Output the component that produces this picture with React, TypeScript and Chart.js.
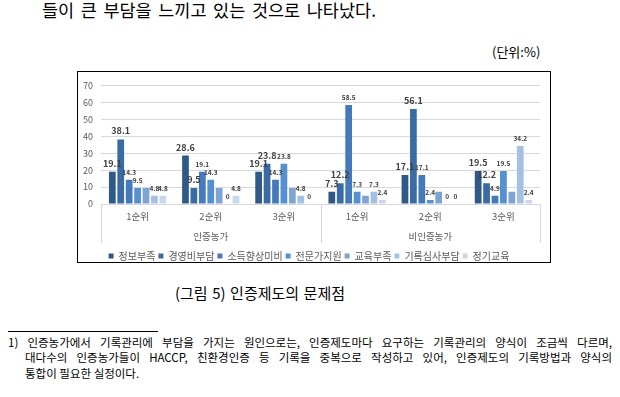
import React, { useEffect, useRef } from 'react';
import { Chart, registerables } from 'chart.js';

Chart.register(...registerables);

const FONT = '"Noto Sans CJK KR", "Noto Sans", sans-serif';

const categories = ['1순위', '2순위', '3순위', '1순위', '2순위', '3순위'];
const groups = ['인증농가', '비인증농가'];
const seriesNames = ['정보부족', '경영비부담', '소득향상미비', '전문가지원', '교육부족', '기록심사부담', '정기교육'];

const infoLack = [19.1, 28.6, 19.1, 7.3, 17.1, 19.5];
const costBurden = [38.1, 9.5, 23.8, 12.2, 56.1, 12.2];
const incomeGain = [14.3, 19.1, 14.3, 58.5, 17.1, 4.9];
const expertSupport = [9.5, 14.3, 23.8, 7.3, 2.4, 19.5];
const eduLack = [9.5, 9.5, 9.5, 4.9, 7.3, 7.3];
const recordAudit = [4.8, 0, 4.8, 7.3, 0, 34.2];
const regularEdu = [4.8, 4.8, 0, 2.4, 0, 2.4];

const seriesValues = [infoLack, costBurden, incomeGain, expertSupport, eduLack, recordAudit, regularEdu];
const seriesColors = ['#2F5987', '#3A6BA5', '#4479BC', '#5590D0', '#7FA3D4', '#A6C0E4', '#C8D7EE'];
const labelledSeries = [true, true, true, true, false, true, true];
const bigLabelSeries = [true, true, false, false, false, false, false];

const yTicks = [0, 10, 20, 30, 40, 50, 60, 70];

function ChartBox() {
  const ref = useRef<HTMLCanvasElement>(null);
  useEffect(() => {
    if (!ref.current) return;
    const datasets = seriesNames.map((name, i) => ({
      label: name,
      data: seriesValues[i],
      backgroundColor: seriesColors[i],
      borderWidth: 0,
      barPercentage: 0.8,
      categoryPercentage: 0.806,
    }));

    const valueLabels = {
      id: 'valueLabels',
      afterDatasetsDraw(chart: any) {
        const ctx = chart.ctx;
        ctx.save();
        ctx.fillStyle = '#404040';
        ctx.textAlign = 'center';
        ctx.textBaseline = 'alphabetic';
        chart.data.datasets.forEach((ds: any, i: number) => {
          if (!labelledSeries[i]) return;
          const meta = chart.getDatasetMeta(i);
          ctx.font = bigLabelSeries[i] ? `bold 9px ${FONT}` : `bold 6.5px ${FONT}`;
          meta.data.forEach((bar: any, j: number) => {
            ctx.fillText(String(ds.data[j]), bar.x, bar.y - 5);
          });
        });
        ctx.restore();
      },
    };

    const groupAxis = {
      id: 'groupAxis',
      afterDraw(chart: any) {
        const x = chart.scales.x;
        const ctx = chart.ctx;
        const mid = (x.getPixelForValue(2) + x.getPixelForValue(3)) / 2;
        const bottom = x.top + 39;
        ctx.save();
        ctx.strokeStyle = '#D9D9D9';
        ctx.lineWidth = 1;
        [x.left, mid, x.right].forEach((px: number) => {
          const p = Math.round(px) + 0.5;
          ctx.beginPath();
          ctx.moveTo(p, x.top);
          ctx.lineTo(p, bottom);
          ctx.stroke();
        });
        ctx.fillStyle = '#595959';
        ctx.font = `9.5px ${FONT}`;
        ctx.textAlign = 'center';
        ctx.textBaseline = 'middle';
        ctx.fillText(groups[0], (x.left + mid) / 2, x.top + 32);
        ctx.fillText(groups[1], (mid + x.right) / 2, x.top + 32);
        ctx.restore();
      },
    };

    const chart = new Chart(ref.current, {
      type: 'bar',
      data: { labels: categories, datasets },
      options: {
        animation: false,
        responsive: false,
        maintainAspectRatio: false,
        layout: { padding: { top: 9, right: 10, left: 0, bottom: 0 } },
        plugins: {
          legend: {
            position: 'bottom',
            labels: {
              boxWidth: 5,
              boxHeight: 5,
              padding: 3,
              color: '#595959',
              font: { family: FONT, size: 10 },
            },
          },
          tooltip: { enabled: false },
        },
        scales: {
          y: {
            min: 0,
            max: 70,
            afterFit: (s: any) => { s.width = 23; },
            afterBuildTicks: (s: any) => { s.ticks = yTicks.map((v) => ({ value: v })); },
            ticks: { color: '#595959', font: { family: FONT, size: 9 }, padding: 8 },
            grid: { color: '#D9D9D9', drawTicks: false },
            border: { display: false },
          },
          x: {
            afterFit: (s: any) => { s.height = 44; },
            ticks: { color: '#595959', font: { family: FONT, size: 9.5 }, padding: 7, maxRotation: 0 },
            grid: { display: false, drawTicks: false },
            border: { color: '#D9D9D9' },
          },
        },
      },
      plugins: [valueLabels, groupAxis],
    } as any);
    return () => chart.destroy();
  }, []);
  return (
    <canvas
      ref={ref}
      width={472}
      height={199}
      style={{ position: 'absolute', left: 78, top: 72, width: 472, height: 199, display: 'block' }}
    />
  );
}

export default function App() {
  const just: React.CSSProperties = { textAlign: 'justify', textAlignLast: 'justify' as any };
  return (
    <div
      style={{
        position: 'absolute',
        left: 0,
        top: 0,
        width: 620,
        height: 397,
        background: '#fff',
        overflow: 'hidden',
        fontFamily: FONT,
        color: '#000',
      }}
    >
      <div style={{ position: 'absolute', left: 42, top: -2, width: 334, fontSize: 17.5, lineHeight: '24px', ...just }}>
        들이 큰 부담을 느끼고 있는 것으로 나타났다.
      </div>
      <div style={{ position: 'absolute', left: 492, top: 43, fontSize: 13, lineHeight: '18px' }}>(단위:%)</div>
      <div
        style={{
          position: 'absolute',
          left: 77,
          top: 71,
          width: 474,
          height: 192,
          boxSizing: 'border-box',
          border: '1px solid #000',
        }}
      />
      <ChartBox />
      <div style={{ position: 'absolute', left: 175, top: 283, width: 170, fontSize: 15, lineHeight: '20px', ...just }}>
        (그림 5) 인증제도의 문제점
      </div>
      <div style={{ position: 'absolute', left: 8, top: 331, width: 150, height: 1, background: '#000' }} />
      <div style={{ position: 'absolute', left: 8, top: 334, width: 604, fontSize: 11.5, lineHeight: '16px', ...just }}>
        1) 인증농가에서 기록관리에 부담을 가지는 원인으로는, 인증제도마다 요구하는 기록관리의 양식이 조금씩 다르며,
      </div>
      <div style={{ position: 'absolute', left: 25, top: 349, width: 587, fontSize: 11.5, lineHeight: '16px', ...just }}>
        대다수의 인증농가들이 HACCP, 친환경인증 등 기록을 중복으로 작성하고 있어, 인증제도의 기록방법과 양식의
      </div>
      <div style={{ position: 'absolute', left: 25, top: 365, fontSize: 11.5, lineHeight: '16px' }}>
        통합이 필요한 실정이다.
      </div>
    </div>
  );
}
